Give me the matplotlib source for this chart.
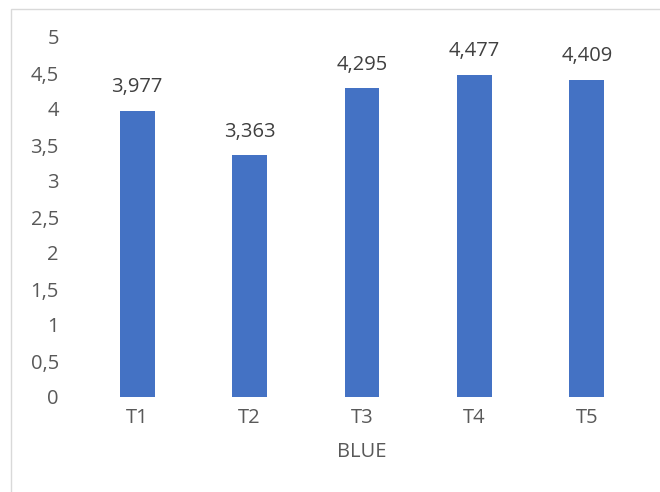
import matplotlib
matplotlib.use("Agg")
import matplotlib.pyplot as plt
from matplotlib.patches import Rectangle

categories = ["T1", "T2", "T3", "T4", "T5"]
values = [3.977, 3.363, 4.295, 4.477, 4.409]
yticks = [0, 0.5, 1, 1.5, 2, 2.5, 3, 3.5, 4, 4.5, 5]
xlabel = "BLUE"

txt = "#595959"
plt.rcParams['font.family'] = ['Open Sans', 'DejaVu Sans']

fig = plt.figure(figsize=(6.6, 4.92), dpi=100)
# light chart border
fig.patches.append(Rectangle((11 / 660, -0.1), 1.2, 1 - 9 / 492 + 0.1,
                             transform=fig.transFigure, fill=False,
                             edgecolor="#d9d9d9", linewidth=1))
ax = fig.add_axes([81 / 660, 1 - 397 / 492, 562 / 660, 360 / 492])

x = range(len(categories))
bars = ax.bar(x, values, width=0.31, color="#4472C4")
for b, v in zip(bars, values):
    ax.annotate(("%.3f" % v).replace(".", ","), (b.get_x() + b.get_width() / 2, v),
                xytext=(0, 9.5), textcoords="offset points", ha="center", va="bottom",
                fontsize=14.5, color="#404040")

ax.set_xlim(-0.5, len(categories) - 0.5)
ax.set_ylim(0, 5)
ax.set_yticks(yticks)
ax.set_yticklabels([("%g" % t).replace(".", ",") for t in yticks])
ax.set_xticks(list(x))
ax.set_xticklabels(categories)
ax.tick_params(axis="y", length=0, pad=16, labelsize=14.5, labelcolor=txt)
ax.tick_params(axis="x", length=0, pad=8, labelsize=14.5, labelcolor=txt)
ax.set_xlabel(xlabel, fontsize=14.5, color=txt, labelpad=10)
for s in ax.spines.values():
    s.set_visible(False)

fig.savefig("out.png", dpi=100)
